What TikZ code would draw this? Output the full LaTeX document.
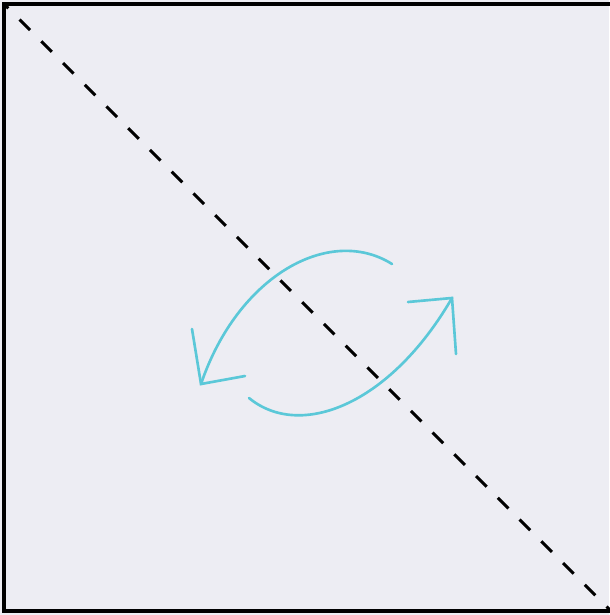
\documentclass[tikz,border=0pt]{standalone}
\usepackage{tikz}
\usetikzlibrary{calc}
\definecolor{bgpaper}{HTML}{EDEDF3}
\definecolor{arrowcyan}{HTML}{5BC8D8}
\begin{document}
\begin{tikzpicture}[x=0.02cm, y=-0.02cm,
    mirror/.style={line width=1.8pt, dash pattern=on 8.5pt off 9pt, dash phase=5pt},
    turnline/.style={draw=arrowcyan, line width=1.5pt, line cap=round, line join=miter}]
			% 背景与边框
			\useasboundingbox (0,0) rectangle (609,615);
			\fill[bgpaper] (0,0) rectangle (609,615);
			\draw[line width=2pt] (4,4) rectangle (613,611);
			% 对角线
			\coordinate (tl) at (4,4);
			\coordinate (br) at (611,611);
			\draw[mirror] (tl) -- (br);
			% 上方箭头
			\coordinate (a0) at (392,264);
			\coordinate (a1) at (201,384);
			\draw[turnline] (a0) .. controls (330,225) and (238,275) .. (a1);
			\draw[turnline] (192,329) -- (a1) -- (245,376);
			% 下方箭头
			\coordinate (b0) at (249,398);
			\coordinate (b1) at (452,298);
			\draw[turnline] (b0) .. controls (300,440) and (390,405) .. (b1);
			\draw[turnline] (408,302) -- (b1) -- (456,354);
		\end{tikzpicture}
\end{document}
